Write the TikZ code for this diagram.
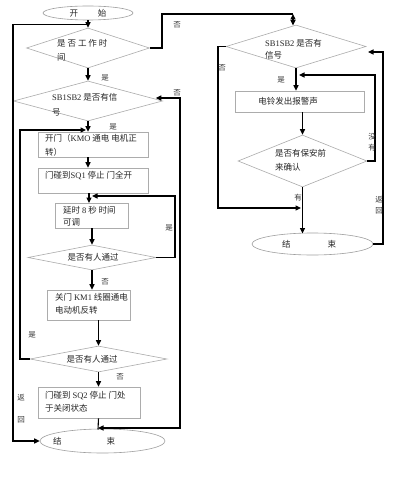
\documentclass[tikz,border=0pt]{standalone}
\usepackage{fontspec}
\newfontfamily\cjk{Noto Sans CJK SC}
\newfontfamily\lat{Liberation Serif}
\usetikzlibrary{arrows.meta,shapes.geometric,calc}
\begin{document}
\begin{tikzpicture}[x=1pt,y=-1pt,
  font=\cjk\fontsize{8.5}{13}\selectfont,
  dec/.style 2 args={diamond,draw=gray!65,line width=0.6pt,minimum width=#1,minimum height=#2,inner sep=0pt},
  box/.style 2 args={rectangle,draw=gray!65,line width=0.6pt,minimum width=#1,minimum height=#2,inner sep=0pt},
  term/.style 2 args={ellipse,draw=gray!75,line width=0.6pt,minimum width=#1,minimum height=#2,inner sep=0pt},
  txt/.style={inner sep=0pt,align=left,anchor=west,text=black!85},
  ctxt/.style={inner sep=0pt,text=black!85},
  lab/.style={inner sep=0pt,font=\cjk\fontsize{7.5}{8}\selectfont,text=black!80},
  ln/.style={line width=1.1pt},
  arr/.style={ln,-{Triangle[length=5.5pt,width=5pt]}},
  dbl/.style={ln,{Triangle[length=5.5pt,width=5pt]}-{Triangle[length=5.5pt,width=5pt]}},
]
\useasboundingbox (0,0) rectangle (400,478);
\fill[white] (0,0) rectangle (400,478);

% ---------- left column ----------
\node[term={90}{14}] (start) at (88,13) {};
\node[ctxt] (startt) at (88,13) {开\hspace{20pt}始};

\node[dec={123}{40}] (d1) at (88,48) {};
\node[txt,font=\cjk\fontsize{8.5}{14}\selectfont] (d1t) at (57,50) {是 否 工 作 时\\间};

\node[dec={149}{40}] (d2) at (88,101) {};
\node[txt,font=\cjk\fontsize{8.5}{15}\selectfont] (d2t) at (52,105) {{\lat SB1SB2} 是否有信\\号};

\node[box={110}{25}] (b1) at (93,144.5) {};
\node[txt,font=\cjk\fontsize{8.5}{14}\selectfont] (b1t) at (45,145) {开门（{\lat KMO} 通电 电机正\\转）};

\node[box={110}{25}] (b2) at (93,180.5) {};
\node[txt] (b2t) at (45,176) {门碰到{\lat SQ1} 停止 门全开};

\node[box={73}{25}] (b3) at (91.5,215.5) {};
\node[txt,font=\cjk\fontsize{8.5}{11.5}\selectfont] (b3t) at (63,216.5) {延时 {\lat 8} 秒 时间\\可调};

\node[dec={128}{25}] (d4) at (92,257.5) {};
\node[ctxt] (d4t) at (93,257) {是否有人通过};

\node[box={83}{30}] (b4) at (88.5,305) {};
\node[txt,font=\cjk\fontsize{8.5}{12.5}\selectfont] (b4t) at (55,304) {关门 {\lat KM1} 线圈通电\\电动机反转};

\node[dec={137}{26}] (d5) at (98.5,359) {};
\node[ctxt] (d5t) at (92,359) {是否有人通过};

\node[box={102}{31}] (b5) at (89,402.5) {};
\node[txt,font=\cjk\fontsize{8.5}{13}\selectfont] (b5t) at (45,401.5) {门碰到 {\lat SQ2} 停止 门处\\于关闭状态};

\node[term={125}{24}] (e1) at (102.5,441) {};
\node[ctxt] (e1t) at (84,441) {结\hspace{45pt}束};

% ---------- right column ----------
\node[dec={140}{43}] (d3) at (296,46.5) {};
\node[txt,font=\cjk\fontsize{8.5}{12}\selectfont] (d3t) at (265,49) {{\lat SB1SB2} 是否有\\信号};

\node[box={129}{21}] (b6) at (299.5,101.5) {};
\node[ctxt] (b6t) at (288,101) {电铃发出报警声};

\node[dec={129}{52}] (d7) at (302.5,161) {};
\node[txt,font=\cjk\fontsize{8.5}{14}\selectfont] (d7t) at (275,160) {是否有保安前\\来确认};

\node[term={121}{22}] (e2) at (312.5,244) {};
\node[ctxt] (e2t) at (309,244) {结\hspace{37pt}束};

% ---------- connectors, left ----------
\coordinate (j1) at (88,24.5);
\draw[arr] (start) -- (d1);
\draw[arr] (j1) -- (13,24.5) -- (13,441) -- (e1.west);

\coordinate (tr) at (293,14);
\draw[ln] (d1.east) -- (162,48) |- (tr);
\draw[dbl] (tr) -- (293,25.5);

\draw[arr] (d1) -- (d2);
\coordinate (m) at (98,428);
\draw[dbl] ($(d2.east)+(-7,-3)$) -- (180,98) -- (180,428) -- (m);

\coordinate (n) at (86,130);
\draw[arr] (d2.south) -- (d2.south |- b1.north);
\draw[arr] (d5.west) -- (20,359) -- (20,130) -- (n);

\draw[arr] (d2.south |- b1.south) -- (d2.south |- b2.north);
\draw[arr] (89,193) -- (89,203);
\draw[arr] (d4.north |- b3.south) -- (d4.north);
\coordinate (q) at (92,196);
\draw[arr] (d4.east) -- (175,257.5) -- (175,196) -- (q);
\draw[arr] (d4.south) -- (d4.south |- b4.north);
\draw[arr] (d5.north |- b4.south) -- (d5.north);
\draw[arr] (d5.south) -- (d5.south |- b5.north);
\draw[ln] (d5.south |- b5.south) -- (98,429.5);

% ---------- connectors, right ----------
\draw[arr] (d3.south) -- (d3.south |- b6.north);
\draw[arr] (d7.north |- b6.south) -- (d7.north);
\draw[arr] (d7.south) -- (302.5,233.5);
\coordinate (r) at (301,208);
\draw[arr] (d3.west) -- (218,46.5) -- (218,208) -- (r);
\coordinate (s) at (299,75);
\draw[arr] (d7.east) -- (375,161) -- (375,75) -- (s);
\draw[arr] (e2.east) -- (383,244) -- (383,52) -- (368,52);

% ---------- labels ----------
\node[lab] (l1) at (177,25) {否};
\node[lab] (l2) at (105,78) {是};
\node[lab] (l3) at (177,93) {否};
\node[lab] (l4) at (113,127) {是};
\node[lab] (l5) at (169,228) {是};
\node[lab] (l6) at (105,282) {否};
\node[lab] (l7) at (32,335) {是};
\node[lab] (l8) at (120,377) {否};
\node[lab] (l9) at (21,398) {返};
\node[lab] (l10) at (21,420) {回};
\node[lab] (r1) at (222,68) {否};
\node[lab] (r2) at (281,80) {是};
\node[lab] (r3) at (372,137) {没};
\node[lab] (r4) at (372,148) {有};
\node[lab] (r5) at (298,198) {有};
\node[lab] (r6) at (379,200) {返};
\node[lab] (r7) at (379,211) {回};
\end{tikzpicture}
\end{document}
